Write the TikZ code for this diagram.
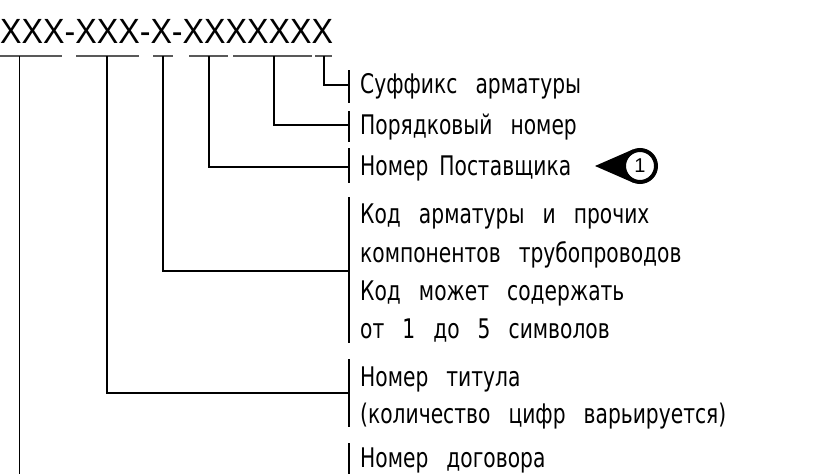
\documentclass[tikz,border=0pt]{standalone}
\usepackage{fontspec}
\newfontfamily\hdrfont[FakeStretch=0.92]{Liberation Sans}
\newfontfamily\lblfont[FakeStretch=0.75,WordSpace=2.8]{DejaVu Sans}
\newfontfamily\numfont{Liberation Sans}
\tikzset{
  hdr/.style={anchor=base west, inner sep=0pt, font=\hdrfont\fontsize{35}{40}\selectfont},
  lbl/.style={anchor=base west, inner sep=0pt, font=\lblfont\fontsize{27}{30}\selectfont},
  uline/.style={draw=black!65, line width=1.8pt},
  conn/.style={draw=black, line width=1.2pt},
  tickline/.style={draw=black, line width=1.2pt},
  marker/.style={circle, draw=black, line width=4pt, fill=white, minimum size=32pt, inner sep=0pt, font=\numfont\fontsize{20}{20}\selectfont}
}
\begin{document}
\begin{tikzpicture}[x=1pt,y=-1pt]
\useasboundingbox (0,0) rectangle (828,474);
% header code
\node[hdr] (code) at (0,43) {XXX-XXX-X-XXXXXXX};
% underline segments
\coordinate (s1a) at (0,56);   \coordinate (s1b) at (62,56);
\coordinate (s2a) at (76,56);  \coordinate (s2b) at (139,56);
\coordinate (s3a) at (153,56); \coordinate (s3b) at (173,56);
\coordinate (s4a) at (189,56); \coordinate (s4b) at (228,56);
\coordinate (s5a) at (233,56); \coordinate (s5b) at (312,56);
\coordinate (s6a) at (315,56); \coordinate (s6b) at (332,56);
\foreach \i in {1,...,6} {\draw[uline] (s\i a) -- (s\i b);}
% branch start points
\coordinate (u1) at (19.3,56);
\coordinate (u2) at (107,56);
\coordinate (u3) at (163,56);
\coordinate (u4) at (209,56);
\coordinate (u5) at (274,56);
\coordinate (u6) at (324,56);
% tick marks on label column
\coordinate (k1a) at (349,70);  \coordinate (k1b) at (349,103);
\coordinate (k2a) at (349,111); \coordinate (k2b) at (349,142);
\coordinate (k3a) at (349,148); \coordinate (k3b) at (349,183);
\coordinate (k4a) at (349,197); \coordinate (k4b) at (349,343);
\coordinate (k5a) at (349,359); \coordinate (k5b) at (349,427);
\coordinate (k6a) at (349,443); \coordinate (k6b) at (349,474);
\foreach \i in {1,...,6} {\draw[tickline] (k\i a) -- (k\i b);}
% junctions
\coordinate (j1) at (349,85);
\coordinate (j2) at (349,125);
\coordinate (j3) at (349,167);
\coordinate (j4) at (349,271);
\coordinate (j5) at (349,393);
\coordinate (e1) at (19.3,474);
% connectors
\draw[conn] (u6) |- (j1);
\draw[conn] (u5) |- (j2);
\draw[conn] (u4) |- (j3);
\draw[conn] (u3) |- (j4);
\draw[conn] (u2) |- (j5);
\draw[conn] (u1) -- (e1);
% labels
\node[lbl] (l1) at (360,93) {Суффикс арматуры};
\node[lbl] (l2) at (360,134) {Порядковый номер};
\node[lbl] (l3) at (360,175) {Номер\hspace{-7pt} Поставщика};
\node[lbl] (l4) at (360,223) {Код арматуры и прочих};
\node[lbl] (l5) at (360,262) {компонентов трубопроводов};
\node[lbl] (l6) at (360,300) {Код может содержать};
\node[lbl] (l7) at (360,338) {от 1 до 5 символов};
\node[lbl] (l8) at (360,386) {Номер титула};
\node[lbl] (l9) at (360,423) {(количество цифр варьируется)};
\node[lbl] (l10) at (360,467) {Номер договора};
% callout marker
\coordinate (mt) at (595,166);
\fill[black] (mt) -- (632.8,149.5) -- (632.8,182.5) -- cycle;
\node[marker] (m1) at (640,166) {1};
\end{tikzpicture}
\end{document}
